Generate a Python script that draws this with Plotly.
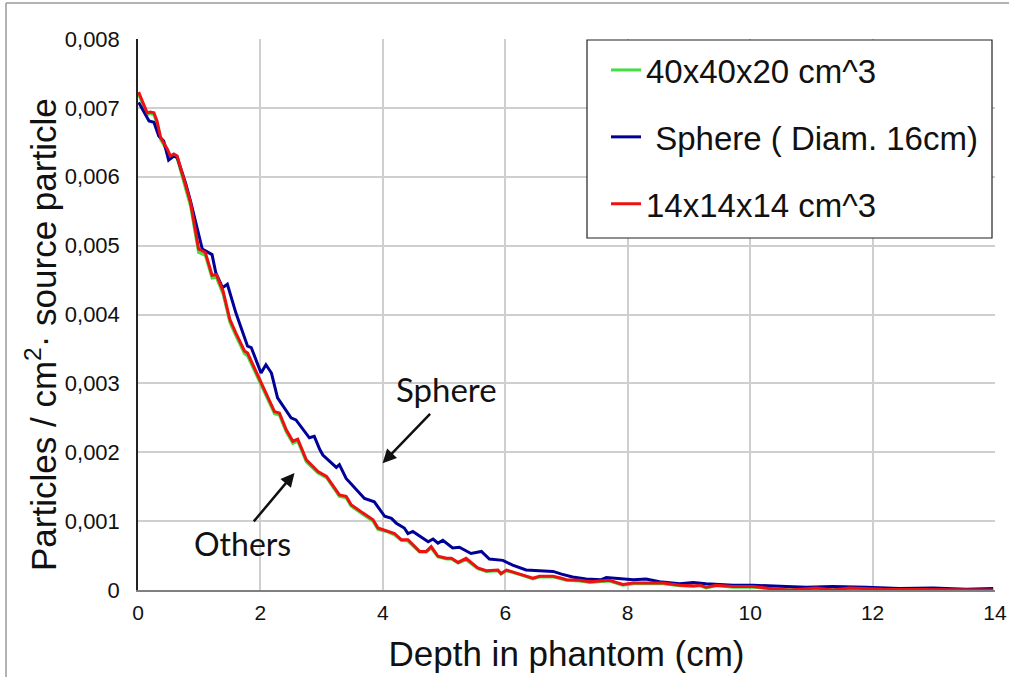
import plotly.graph_objects as go

# ---------------- data ----------------
red_x = [0.01, 0.15, 0.20, 0.26, 0.31, 0.37, 0.48, 0.53, 0.585, 0.64, 0.78, 0.86, 0.99, 1.10, 1.21,
         1.28, 1.39, 1.50, 1.60, 1.74, 1.79, 1.88, 2.01, 2.12, 2.23, 2.31, 2.42, 2.53, 2.61, 2.75,
         2.94, 3.08, 3.29, 3.40, 3.48, 3.67, 3.75, 3.84, 3.92, 4.06, 4.19, 4.30, 4.41, 4.60, 4.71,
         4.79, 4.90, 5.04, 5.12, 5.23, 5.36, 5.55, 5.69, 5.88, 5.93, 6.02, 6.29, 6.45, 6.56, 6.67,
         6.78, 6.92, 7.00, 7.21, 7.38, 7.54, 7.70, 7.92, 8.09, 8.30, 8.58, 8.85, 9.07, 9.18, 9.28,
         9.45, 9.72, 10.05, 10.43, 10.65, 11.08, 11.35, 11.63, 12.17, 12.72, 13.26, 13.97]
red_y = [7.23, 6.93, 6.94, 6.93, 6.81, 6.57, 6.40, 6.30, 6.33, 6.30, 5.87, 5.62, 4.95, 4.90, 4.57,
         4.58, 4.34, 3.93, 3.73, 3.47, 3.44, 3.27, 3.03, 2.81, 2.59, 2.57, 2.33, 2.16, 2.19, 1.89,
         1.72, 1.65, 1.38, 1.36, 1.24, 1.12, 1.07, 1.02, 0.90, 0.86, 0.82, 0.73, 0.73, 0.56, 0.56,
         0.63, 0.49, 0.46, 0.46, 0.40, 0.46, 0.32, 0.28, 0.29, 0.24, 0.29, 0.22, 0.17, 0.20, 0.20,
         0.20, 0.17, 0.15, 0.14, 0.12, 0.13, 0.14, 0.08, 0.10, 0.10, 0.10, 0.07, 0.06, 0.07, 0.04,
         0.07, 0.05, 0.05, 0.01, 0.00, 0.03, 0.00, 0.03, 0.01, 0.01, 0.00, 0.00]

green_x = [0.01, 0.15, 0.20, 0.26, 0.31, 0.37, 0.48, 0.53, 0.585, 0.64, 0.78, 0.86, 0.99, 1.10, 1.21,
           1.28, 1.39, 1.50, 1.60, 1.74, 1.79, 1.88, 2.01, 2.12, 2.23, 2.31, 2.42, 2.53, 2.61, 2.75,
           2.94, 3.08, 3.29, 3.40, 3.48, 3.67, 3.75, 3.84, 3.92, 4.06, 4.19, 4.30, 4.41, 4.60, 4.71,
           4.79, 4.90, 5.04, 5.12, 5.23, 5.36, 5.55, 5.69, 5.88, 5.93, 6.02, 6.29, 6.45, 6.56, 6.67,
           6.78, 6.92, 7.00, 7.21, 7.38, 7.54, 7.70, 7.92, 8.09, 8.30, 8.58, 8.85, 9.07, 9.18, 9.28,
           9.45, 9.72, 10.05, 10.43, 10.65, 11.08, 11.35, 11.63, 12.17, 12.72, 13.26, 13.97]
green_y = [7.20, 6.90, 6.92, 6.90, 6.78, 6.54, 6.37, 6.28, 6.30, 6.27, 5.82, 5.57, 4.90, 4.86, 4.53,
           4.54, 4.30, 3.89, 3.69, 3.43, 3.40, 3.23, 2.99, 2.77, 2.56, 2.54, 2.30, 2.13, 2.16, 1.86,
           1.70, 1.63, 1.36, 1.34, 1.22, 1.10, 1.05, 1.00, 0.88, 0.85, 0.80, 0.72, 0.71, 0.55, 0.55,
           0.61, 0.48, 0.45, 0.45, 0.39, 0.44, 0.31, 0.27, 0.28, 0.23, 0.28, 0.21, 0.16, 0.19, 0.19,
           0.19, 0.16, 0.14, 0.13, 0.11, 0.12, 0.13, 0.07, 0.09, 0.09, 0.09, 0.06, 0.05, 0.06, 0.03,
           0.06, 0.04, 0.04, 0.01, 0.00, 0.02, 0.00, 0.02, 0.01, 0.00, 0.00, 0.00]

blue_x = [0.01, 0.18, 0.26, 0.34, 0.42, 0.50, 0.585, 0.64, 0.78, 0.86, 1.05, 1.21, 1.27, 1.38,
          1.46, 1.60, 1.79, 1.85, 2.01, 2.09, 2.18, 2.28, 2.50, 2.58, 2.80, 2.88, 2.97, 3.02,
          3.24, 3.29, 3.40, 3.57, 3.70, 3.86, 4.03, 4.14, 4.22, 4.35, 4.41, 4.49, 4.74, 4.82,
          4.90, 4.98, 5.14, 5.25, 5.44, 5.61, 5.74, 5.96, 6.12, 6.34, 6.56, 6.78, 6.92, 7.10,
          7.32, 7.57, 7.65, 7.87, 8.09, 8.30, 8.52, 8.85, 9.07, 9.28, 9.72, 10.05, 10.26, 10.59,
          10.92, 11.35, 11.90, 12.44, 12.99, 13.53, 13.97]
blue_y = [7.08, 6.81, 6.79, 6.59, 6.52, 6.24, 6.30, 6.28, 5.90, 5.64, 4.95, 4.87, 4.61, 4.39,
          4.44, 4.02, 3.54, 3.52, 3.15, 3.27, 3.15, 2.79, 2.50, 2.47, 2.21, 2.23, 2.04, 1.96,
          1.78, 1.82, 1.62, 1.45, 1.33, 1.28, 1.07, 1.04, 0.97, 0.90, 0.82, 0.85, 0.70, 0.74,
          0.68, 0.72, 0.61, 0.62, 0.53, 0.56, 0.45, 0.43, 0.36, 0.29, 0.28, 0.27, 0.23, 0.19,
          0.16, 0.15, 0.18, 0.17, 0.15, 0.16, 0.12, 0.09, 0.11, 0.09, 0.07, 0.07, 0.06, 0.05,
          0.04, 0.05, 0.04, 0.02, 0.03, 0.01, 0.02]

x_ticks = [0, 2, 4, 6, 8, 10, 12, 14]
y_ticks = [0, 0.001, 0.002, 0.003, 0.004, 0.005, 0.006, 0.007, 0.008]
y_tick_text = ["0", "0,001", "0,002", "0,003", "0,004", "0,005", "0,006", "0,007", "0,008"]

series_names = ["40x40x20 cm^3", " Sphere ( Diam. 16cm)", "14x14x14 cm^3"]
series_colors = ["#44dd44", "#000099", "#ee1111"]

x_title = "Depth in phantom (cm)"
y_title = "Particles / cm<sup>2</sup>\u00b7 source particle"

# ---------------- figure ----------------
W, H = 1010, 678
ML, MR, MT, MB = 138, 15, 39, 88


def px_x(p):
    return (p - ML) / (W - ML - MR)


def px_y(p):
    return (H - MB - p) / (H - MT - MB)


fig = go.Figure()
for xs, ys, name, col, grp in [
    (green_x, green_y, series_names[0], series_colors[0], "a"),
    (blue_x, blue_y, series_names[1], series_colors[1], "b"),
    (red_x, red_y, series_names[2], series_colors[2], "c"),
]:
    fig.add_trace(go.Scatter(
        x=xs, y=[v / 1000 for v in ys], mode="lines", name=name,
        legendgroup=grp,
        line=dict(color=col, width=3),
    ))

fig.update_layout(
    width=W, height=H,
    margin=dict(l=ML, r=MR, t=MT, b=MB, autoexpand=False),
    paper_bgcolor="white", plot_bgcolor="white",
    font=dict(family="Liberation Sans, Arial, sans-serif", color="#111111"),
    showlegend=True,
    legend=dict(
        x=px_x(606), y=px_y(42), xanchor="left", yanchor="top",
        bgcolor="rgba(0,0,0,0)", borderwidth=0,
        font=dict(size=33, family="Liberation Sans, Arial, sans-serif", color="#111111"),
        tracegroupgap=21, itemwidth=30,
    ),
    xaxis=dict(
        range=[0, 14], tickvals=x_ticks, ticks="", showgrid=True,
        gridcolor="#cfcfcf", gridwidth=1.5,
        showline=True, linecolor="#808080", linewidth=2,
        zeroline=False,
        tickfont=dict(size=21, color="#111111"),
        ticklabelstandoff=3,
        title=dict(text=x_title, font=dict(size=35, color="#111111"), standoff=18),
    ),
    yaxis=dict(
        range=[0, 0.008], tickvals=y_ticks, ticktext=y_tick_text, ticks="",
        showgrid=True, gridcolor="#cfcfcf", gridwidth=1.5,
        showline=True, linecolor="#222222", linewidth=1.5,
        zeroline=False,
        tickfont=dict(size=22, color="#111111"),
        ticklabelstandoff=12,
    ),
)

# y-axis title placed where the reference has it
fig.add_annotation(x=px_x(41), y=px_y(335), xref="paper", yref="paper",
                   text=y_title, textangle=-90, showarrow=False,
                   xanchor="center", yanchor="middle",
                   font=dict(size=35, color="#111111"))

# legend frame (legend itself is drawn on top)
fig.add_shape(type="rect", xref="paper", yref="paper",
              x0=px_x(587), x1=px_x(992), y0=px_y(238), y1=px_y(40),
              line=dict(color="#222222", width=1.2), fillcolor="white", layer="above")

# arrows and labels
fig.add_annotation(x=3.995, y=0.00184, ax=49, ay=-51, xref="x", yref="y",
                   text="", showarrow=True, arrowhead=2, arrowsize=1.1, arrowwidth=2.5,
                   arrowcolor="#111111")
fig.add_annotation(x=2.557, y=0.0017, ax=-42, ay=50, xref="x", yref="y",
                   text="", showarrow=True, arrowhead=2, arrowsize=1.1, arrowwidth=2.5,
                   arrowcolor="#111111")
fig.add_annotation(x=5.04, y=0.00292, xref="x", yref="y", text="Sphere", showarrow=False,
                   font=dict(family="Lato, Open Sans, sans-serif", size=33, color="#111111"))
fig.add_annotation(x=1.71, y=0.00068, xref="x", yref="y", text="Others", showarrow=False,
                   font=dict(family="Lato, Open Sans, sans-serif", size=32, color="#111111"))

# outer frame: only its left and top edges fall inside the picture
fig.add_shape(type="line", xref="paper", yref="paper",
              x0=px_x(6), x1=px_x(6), y0=px_y(677), y1=px_y(3),
              line=dict(color="#9a9a9a", width=1.5), layer="below")
fig.add_shape(type="line", xref="paper", yref="paper",
              x0=px_x(6), x1=px_x(1009), y0=px_y(3), y1=px_y(3),
              line=dict(color="#9a9a9a", width=1.5), layer="below")

fig.write_html("out.html")
